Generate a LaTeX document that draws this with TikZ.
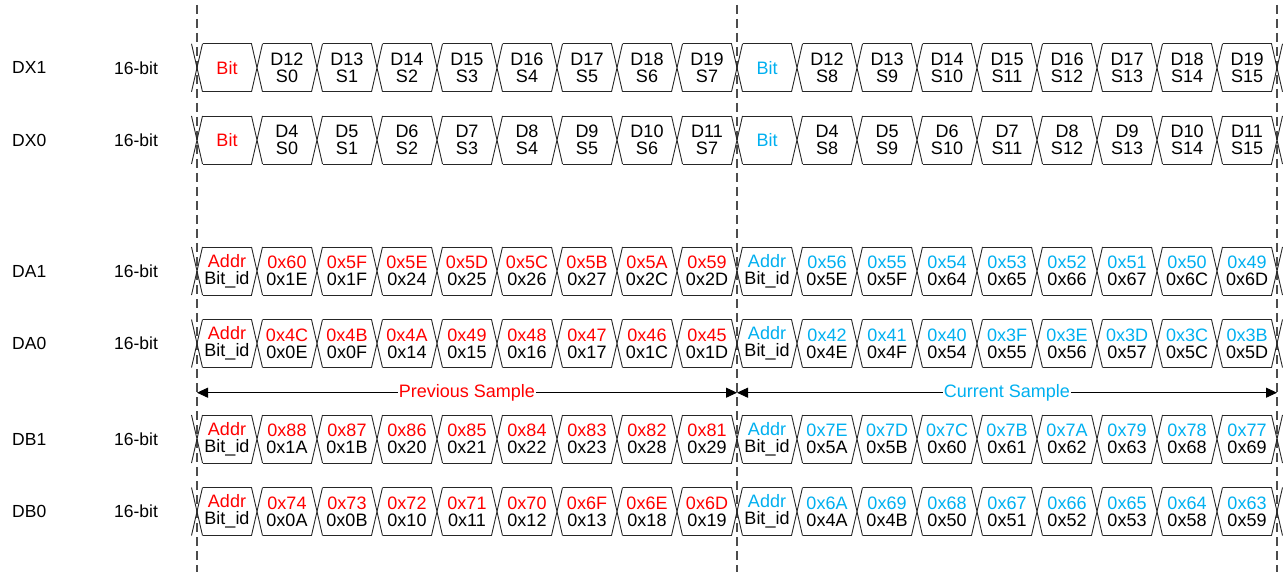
\documentclass[tikz,border=0pt]{standalone}
\usepackage{fontspec}
\setmainfont{Liberation Sans}
\usetikzlibrary{arrows.meta}
\definecolor{prevred}{RGB}{255,0,0}
\definecolor{curblue}{RGB}{0,176,240}
\tikzset{
  bus/.style={draw=black!85, line width=0.9pt},
  guide/.style={draw=black!70, line width=2pt, dash pattern=on 9pt off 5pt},
  cell/.style={font=\fontsize{18}{17}\selectfont, align=center, inner sep=0pt},
  lbl/.style={font=\fontsize{17.5}{17}\selectfont, anchor=west, inner sep=0pt},
  span/.style={draw=black, line width=0.9pt, {Triangle[length=11pt,width=10pt]}-{Triangle[length=11pt,width=10pt]}}
}
\def\xo{197}
\def\cw{60}
\def\dx{5.5}
\def\hh{24}
\begin{document}
\begin{tikzpicture}[x=1pt,y=-1pt]
\useasboundingbox[fill=white] (0,0) rectangle (1285,572);
% sample boundaries
\foreach \n/\x in {gA/197, gB/737, gC/1277} {
  \coordinate (\n top) at (\x,5);
  \coordinate (\n bot) at (\x,572);
  \draw[guide] (\n top) -- (\n bot);
}
% bus outlines and row labels
\foreach \r/\y in {DX1/67.8, DX0/140, DA1/271, DA0/343.5, DB1/439, DB0/511.5} {
  \node[lbl] (\r name) at (12,\y) {\r};
  \node[lbl] (\r width) at (114,\y) {16-bit};
  \foreach \k in {0,...,18}
    \draw[bus] (\xo+\k*\cw-\dx,\y-\hh) -- (\xo+\k*\cw+\dx,\y+\hh)
               (\xo+\k*\cw-\dx,\y+\hh) -- (\xo+\k*\cw+\dx,\y-\hh);
  \foreach \k in {0,...,17}
    \draw[bus] (\xo+\k*\cw+\dx,\y-\hh) -- (\xo+\k*\cw+\cw-\dx,\y-\hh)
               (\xo+\k*\cw+\dx,\y+\hh) -- (\xo+\k*\cw+\cw-\dx,\y+\hh);
}
% data bit cells
\foreach \r/\y/\base in {DX1/67.8/11, DX0/140/3} {
  \node[cell, text=prevred] (\r-0) at (\xo+0.5*\cw,\y) {Bit};
  \node[cell, text=curblue] (\r-9) at (\xo+9.5*\cw,\y) {Bit};
  \foreach \k in {1,2,3,4,5,6,7,8,10,11,12,13,14,15,16,17} {
    \pgfmathtruncatemacro\m{\k<9 ? \k : \k-9}
    \pgfmathtruncatemacro\dd{\base+\m}
    \pgfmathtruncatemacro\s{\k<9 ? \k-1 : \k-2}
    \node[cell] (\r-\k) at (\xo+\k*\cw+0.5*\cw,\y) {D\dd\\S\s};
  }
}
% address cells
\foreach \r/\y/\list in {
  DA1/271/{1/0x60/0x1E,2/0x5F/0x1F,3/0x5E/0x24,4/0x5D/0x25,5/0x5C/0x26,6/0x5B/0x27,7/0x5A/0x2C,8/0x59/0x2D,
           10/0x56/0x5E,11/0x55/0x5F,12/0x54/0x64,13/0x53/0x65,14/0x52/0x66,15/0x51/0x67,16/0x50/0x6C,17/0x49/0x6D},
  DA0/343.5/{1/0x4C/0x0E,2/0x4B/0x0F,3/0x4A/0x14,4/0x49/0x15,5/0x48/0x16,6/0x47/0x17,7/0x46/0x1C,8/0x45/0x1D,
           10/0x42/0x4E,11/0x41/0x4F,12/0x40/0x54,13/0x3F/0x55,14/0x3E/0x56,15/0x3D/0x57,16/0x3C/0x5C,17/0x3B/0x5D},
  DB1/439/{1/0x88/0x1A,2/0x87/0x1B,3/0x86/0x20,4/0x85/0x21,5/0x84/0x22,6/0x83/0x23,7/0x82/0x28,8/0x81/0x29,
           10/0x7E/0x5A,11/0x7D/0x5B,12/0x7C/0x60,13/0x7B/0x61,14/0x7A/0x62,15/0x79/0x63,16/0x78/0x68,17/0x77/0x69},
  DB0/511.5/{1/0x74/0x0A,2/0x73/0x0B,3/0x72/0x10,4/0x71/0x11,5/0x70/0x12,6/0x6F/0x13,7/0x6E/0x18,8/0x6D/0x19,
           10/0x6A/0x4A,11/0x69/0x4B,12/0x68/0x50,13/0x67/0x51,14/0x66/0x52,15/0x65/0x53,16/0x64/0x58,17/0x63/0x59}} {
  \node[cell] (\r-0) at (\xo+0.5*\cw,\y) {\textcolor{prevred}{Addr}\\Bit\_id};
  \node[cell] (\r-9) at (\xo+9.5*\cw,\y) {\textcolor{curblue}{Addr}\\Bit\_id};
  \foreach \k/\a/\b in \list {
    \ifnum\k<9 \def\c{prevred}\else\def\c{curblue}\fi
    \node[cell] (\r-\k) at (\xo+\k*\cw+0.5*\cw,\y) {\textcolor{\c}{\a}\\\b};
  }
}
% sample spans
\coordinate (pL) at (197,392.7);
\coordinate (pM) at (737,392.7);
\coordinate (pR) at (1277,392.7);
\draw[span] (pL) -- node[cell, fill=white, inner xsep=1pt, text=prevred] (prev) {Previous Sample} (pM);
\draw[span] (pM) -- node[cell, fill=white, inner xsep=1pt, text=curblue] (cur) {Current Sample} (pR);
\end{tikzpicture}
\end{document}
